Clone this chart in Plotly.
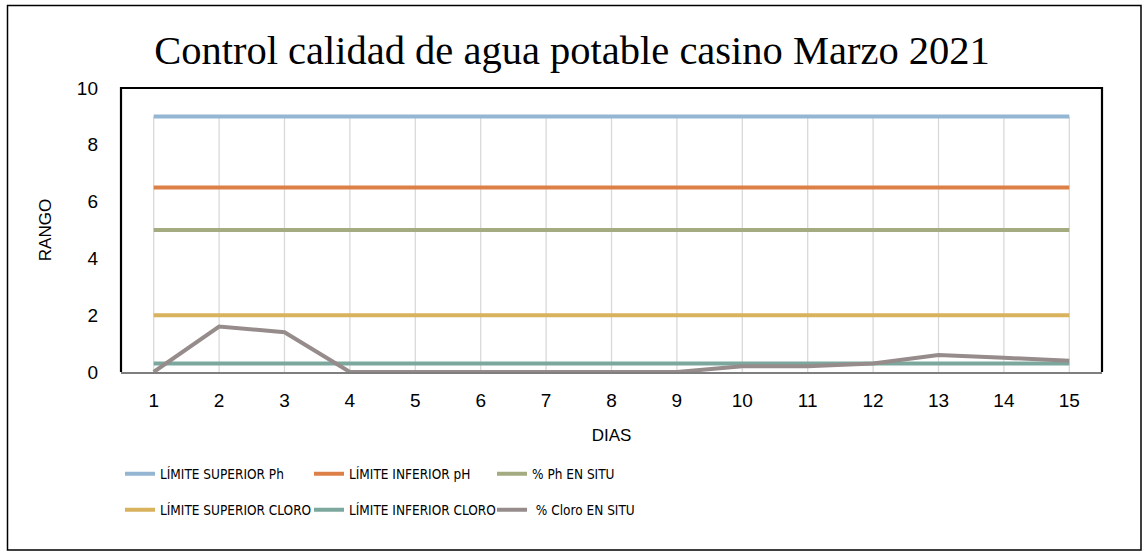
import plotly.graph_objects as go

dias = list(range(1, 16))
lim_sup_ph = [9] * 15
lim_inf_ph = [6.5] * 15
ph_en_situ = [5] * 15
lim_sup_cloro = [2] * 15
lim_inf_cloro = [0.3] * 15
cloro_en_situ = [0, 1.6, 1.4, 0, 0, 0, 0, 0, 0, 0.2, 0.2, 0.3, 0.6, 0.5, 0.4]

names = ["LÍMITE SUPERIOR Ph", "LÍMITE INFERIOR pH", "% Ph EN SITU",
         "LÍMITE SUPERIOR CLORO", "LÍMITE INFERIOR CLORO", " % Cloro EN SITU"]
series = [lim_sup_ph, lim_inf_ph, ph_en_situ, lim_sup_cloro, lim_inf_cloro, cloro_en_situ]
colors = ["#94B6D2", "#DD8047", "#A5AB81", "#D8B25C", "#7BA79D", "#968C8C"]

W, H = 1145, 556
L, R, T, B = 121, 1102, 88, 372

def px_y(y):
    return (B - y) / (B - T)

def px_x(x):
    return (x - L) / (R - L)

fig = go.Figure()

# drop lines (from the highest value of each day down to the axis)
dx, dy = [], []
for i, d in enumerate(dias):
    top = max(s[i] for s in series)
    dx += [d, d, None]
    dy += [0, top, None]
fig.add_trace(go.Scatter(x=dx, y=dy, mode="lines", line=dict(color="#D9D9D9", width=1.3),
                         showlegend=False, hoverinfo="skip"))

sans = "DejaVu Sans Condensed, Liberation Sans Narrow, Liberation Sans, Arial"
tick_font = dict(family="Liberation Sans, Arial", size=19, color="#000")
leg_font = dict(family=sans, size=13.5, color="#000")
title_font = dict(family="Liberation Sans, Arial", size=17, color="#000")

col_x = [125, 314, 497]
row_y = [474, 510]
legend_layouts = {}
for k, (n, s, c) in enumerate(zip(names, series, colors)):
    lid = "legend" if k == 0 else f"legend{k + 1}"
    fig.add_trace(go.Scatter(x=dias, y=s, name=n, mode="lines",
                             line=dict(color=c, width=4), legend=lid))
    legend_layouts[lid] = dict(x=px_x(col_x[k % 3] - 5), y=px_y(row_y[k // 3]),
                               xanchor="left", yanchor="middle", font=leg_font,
                               bgcolor="rgba(0,0,0,0)")

fig.update_layout(
    width=W, height=H,
    margin=dict(l=L, r=W - R, t=T, b=H - B),
    paper_bgcolor="white", plot_bgcolor="white",
    title=dict(text="Control calidad de agua potable casino Marzo 2021",
               font=dict(family="Liberation Serif, DejaVu Serif", size=40.5, color="#000"),
               x=572 / W, xref="container", xanchor="center",
               y=1 - 50 / H, yref="container", yanchor="middle"),
    xaxis=dict(range=[0.5, 15.5], tickmode="array", tickvals=dias,
               ticktext=[str(d) for d in dias], showgrid=False,
               zeroline=False, showline=True, linecolor="#7F7F7F",
               linewidth=1.5, ticks="", tickfont=tick_font, ticklabelstandoff=10,
               title=dict(text="DIAS", font=title_font, standoff=20)),
    yaxis=dict(range=[0, 10], tickvals=[0, 2, 4, 6, 8, 10], showgrid=False,
               zeroline=False, showline=False, ticks="", tickfont=tick_font,
               ticklabelstandoff=22,
               title=dict(text="RANGO", font=title_font, standoff=20)),
    showlegend=True,
    **legend_layouts,
)

# plot area frame: left, top, right in black
fig.add_shape(type="path", xref="paper", yref="paper",
              path="M 0 0 L 0 1 L 1 1 L 1 0",
              line=dict(color="#000", width=2.2), layer="above")
# outer chart border
fig.add_shape(type="rect", xref="paper", yref="paper",
              x0=px_x(7.5), x1=px_x(1141), y0=px_y(550), y1=px_y(5.5),
              line=dict(color="#000", width=1.5), fillcolor="rgba(0,0,0,0)")

fig.write_html("out.html", config={"displayModeBar": False},
               post_script="document.body.style.margin='0';document.body.style.padding='0';")
